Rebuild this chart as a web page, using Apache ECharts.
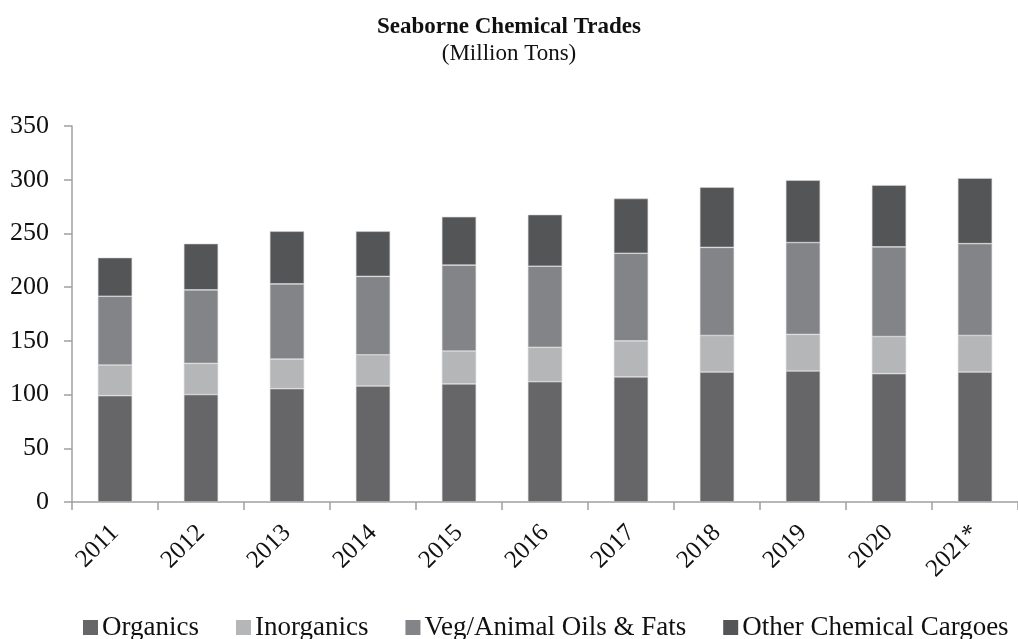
<!DOCTYPE html>
<html lang="en">
<head>
  <meta charset="UTF-8">
  <title>Seaborne Chemical Trades</title>
  <script src="https://cdn.jsdelivr.net/npm/echarts@6/dist/echarts.min.js"></script>
  <style>
    html, body { margin: 0; padding: 0; background: #fff; }
    #canvas { width: 1018px; height: 639px; }
  </style>
</head>
<body>
  <div id="canvas"></div>
  <script>
    const years = ['2011', '2012', '2013', '2014', '2015', '2016', '2017', '2018', '2019', '2020', '2021*']
    // million tons
    const organics = [99, 100, 105.5, 108, 110, 112, 116.5, 121, 122, 119.5, 121]
    const inorganics = [28.5, 29, 27.5, 29, 30.5, 32, 33.5, 34, 34, 34.5, 34]
    const vegOils = [64, 68.5, 70, 73, 80, 75.5, 81.5, 82, 85.5, 83.5, 85.5]
    const otherCargoes = [36, 43, 49, 42, 45, 48, 51, 56, 58, 57.5, 61]
    const yTicks = [0, 50, 100, 150, 200, 250, 300, 350]

    const serif = '"Liberation Serif", "DejaVu Serif", serif'
    const axisGrey = '#a0a0a0'

    function barSeries(name, data, color) {
      return {
        name: name,
        type: 'bar',
        stack: 'total',
        barWidth: '40%',
        data: data,
        itemStyle: {
          color: color,
          borderColor: '#d8d8d8',
          borderWidth: 0.6
        }
      }
    }

    const option = {
      animation: false,
      backgroundColor: '#fff',
      title: [{
        text: 'Seaborne Chemical Trades',
        left: 'center',
        top: 11,
        textStyle: { fontFamily: serif, fontSize: 23, fontWeight: 'bold', color: '#111' }
      }, {
        text: '(Million Tons)',
        left: 'center',
        top: 37,
        textStyle: { fontFamily: serif, fontSize: 23, fontWeight: 'normal', color: '#111' }
      }],
      legend: {
        left: 78,
        top: 609,
        itemWidth: 15,
        itemHeight: 15,
        itemGap: 37,
        icon: 'rect',
        itemStyle: { borderWidth: 0 },
        textStyle: { fontFamily: serif, fontSize: 27, color: '#111', padding: [0, 0, 0, -1] },
        data: ['Organics', 'Inorganics', 'Veg/Animal Oils & Fats', 'Other Chemical Cargoes']
      },
      grid: {
        left: 72,
        top: 126,
        width: 955,
        bottom: 137,
        containLabel: false
      },
      xAxis: {
        type: 'category',
        data: years,
        axisLine: { lineStyle: { color: axisGrey, width: 1.5 } },
        axisTick: { show: true, length: 8, lineStyle: { color: axisGrey, width: 1.5 } },
        axisLabel: {
          rotate: 45,
          margin: 27,
          fontFamily: serif,
          fontSize: 25,
          color: '#111'
        }
      },
      yAxis: {
        type: 'value',
        min: yTicks[0],
        max: yTicks[yTicks.length - 1],
        interval: 50,
        splitLine: { show: false },
        axisLine: { show: true, lineStyle: { color: axisGrey, width: 1.5 } },
        axisTick: { show: true, length: 8, lineStyle: { color: axisGrey, width: 1.5 } },
        axisLabel: {
          margin: 23,
          fontFamily: serif,
          fontSize: 26,
          color: '#111'
        }
      },
      series: [
        barSeries('Organics', organics, '#666668'),
        barSeries('Inorganics', inorganics, '#b5b6b8'),
        barSeries('Veg/Animal Oils & Fats', vegOils, '#838488'),
        barSeries('Other Chemical Cargoes', otherCargoes, '#545557')
      ]
    }

    const myChart = echarts.init(document.getElementById('canvas'))
    myChart.setOption(option)
  </script>
</body>
</html>
